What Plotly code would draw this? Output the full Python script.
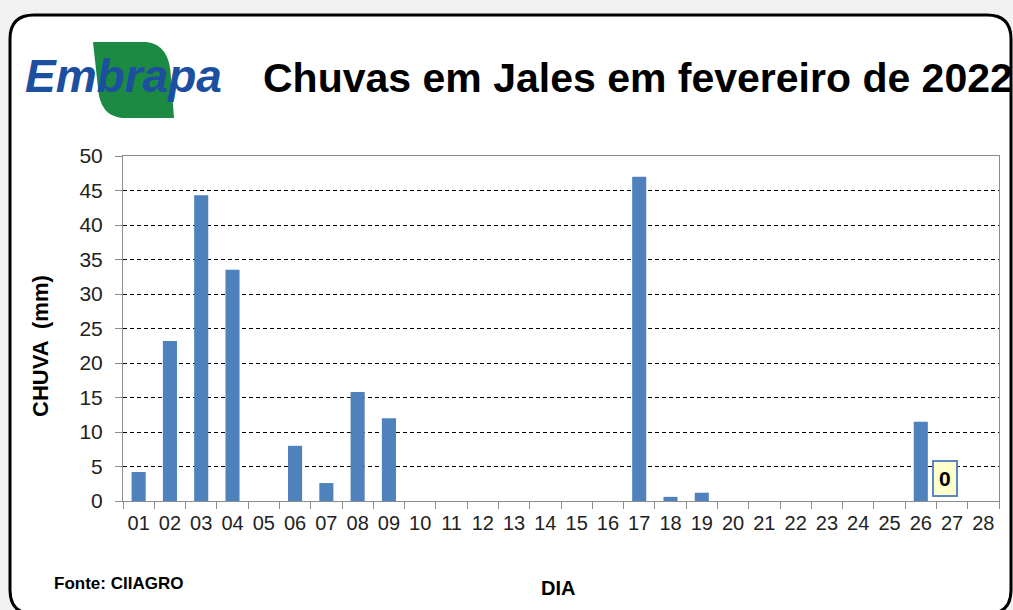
import plotly.graph_objects as go

# ---- data ----
days = ["01", "02", "03", "04", "05", "06", "07", "08", "09", "10", "11", "12", "13", "14",
        "15", "16", "17", "18", "19", "20", "21", "22", "23", "24", "25", "26", "27", "28"]
rain_mm = [4.2, 23.2, 44.3, 33.5, 0, 8.0, 2.6, 15.8, 12.0, 0, 0, 0, 0, 0,
           0, 0, 47.0, 0.6, 1.2, 0, 0, 0, 0, 0, 0, 11.5, 0, 0]
y_ticks = [0, 5, 10, 15, 20, 25, 30, 35, 40, 45, 50]
label_day = "27"

title_text = "Chuvas em Jales em fevereiro de 2022"
source_text = "Fonte: CIIAGRO"
x_title = "DIA"
y_title = "CHUVA  (mm)"
logo_text = "Embrapa"

W, H = 1013, 610
L, R, T, B = 123, 999, 156, 501  # plot area in px


def px(x):
    return (x - L) / (R - L)


def py(y):
    return (B - y) / (B - T)


fig = go.Figure()
fig.add_trace(go.Bar(
    x=days, y=rain_mm,
    marker=dict(color="#4f81bd", line=dict(width=0)),
    hoverinfo="x+y",
))

shapes = []
# rounded border frame
x0, y0, x1, y1, r = 10, 15, 1011, 614, 24
path = (f"M {px(x0+r)},{py(y0)} L {px(x1-r)},{py(y0)} "
        f"Q {px(x1)},{py(y0)} {px(x1)},{py(y0+r)} "
        f"L {px(x1)},{py(y1-r)} Q {px(x1)},{py(y1)} {px(x1-r)},{py(y1)} "
        f"L {px(x0+r)},{py(y1)} Q {px(x0)},{py(y1)} {px(x0)},{py(y1-r)} "
        f"L {px(x0)},{py(y0+r)} Q {px(x0)},{py(y0)} {px(x0+r)},{py(y0)} Z")
shapes.append(dict(type="path", xref="paper", yref="paper", path=path,
                   line=dict(color="black", width=3), fillcolor="white", layer="below"))
# logo leaf
leaf = (f"M {px(93)},{py(42)} L {px(146)},{py(42)} "
        f"Q {px(170)},{py(44)} {px(171)},{py(78)} "
        f"L {px(174)},{py(118)} L {px(122)},{py(118)} "
        f"Q {px(100)},{py(116)} {px(98)},{py(88)} Z")
shapes.append(dict(type="path", xref="paper", yref="paper", path=leaf,
                   line=dict(color="#1d8a43", width=0), fillcolor="#1d8a43", layer="below"))

li = days.index(label_day)
annotations = [
    dict(text=f"<b><i>{logo_text}</i></b>", xref="paper", yref="paper",
         x=px(23), y=py(76), xanchor="left", yanchor="middle", showarrow=False,
         font=dict(family="Liberation Sans, Arial", size=46, color="#1c4f9f")),
    dict(text=f"<b>{title_text}</b>", xref="paper", yref="paper",
         x=px(261), y=py(78), xanchor="left", yanchor="middle", showarrow=False,
         font=dict(family="Liberation Sans, Arial", size=41, color="black")),
    dict(text=f"<b>{source_text}</b>", xref="paper", yref="paper",
         x=px(52), y=py(583), xanchor="left", yanchor="middle", showarrow=False,
         font=dict(family="Liberation Sans, Arial", size=17, color="black")),
    dict(text=f"<b>{x_title}</b>", xref="paper", yref="paper",
         x=px(558), y=py(588), xanchor="center", yanchor="middle", showarrow=False,
         font=dict(family="Liberation Sans, Arial", size=20, color="black")),
    dict(text=f"<b>{y_title}</b>", xref="paper", yref="paper",
         x=px(40), y=py(346), xanchor="center", yanchor="middle", showarrow=False,
         textangle=-90,
         font=dict(family="Liberation Sans, Arial", size=22, color="black")),
    dict(text=f"<b>{rain_mm[li]:g}</b>", x=li, y=rain_mm[li], xref="x", yref="y",
         yanchor="bottom", xshift=-7, yshift=4, showarrow=False,
         bgcolor="#ffffcc", bordercolor="#5b87c5", borderwidth=2, borderpad=5,
         font=dict(family="Liberation Sans, Arial", size=21, color="black")),
]

fig.update_layout(
    width=W, height=H,
    margin=dict(l=L, r=W - R, t=T, b=H - B, pad=0),
    paper_bgcolor="#f1f1f1",
    plot_bgcolor="white",
    showlegend=False,
    bargap=0.55,
    shapes=shapes,
    annotations=annotations,
    font=dict(family="Liberation Sans, Arial", color="#222"),
)
fig.update_xaxes(
    type="category", categoryorder="array", categoryarray=days,
    showline=True, linecolor="#8c8c8c", linewidth=1, mirror=True,
    ticks="outside", tickson="boundaries", ticklen=7, tickcolor="#8c8c8c",
    tickfont=dict(size=20, color="#222"), showgrid=False, ticklabelstandoff=4,
)
fig.update_yaxes(
    range=[0, 50], tickvals=y_ticks,
    showline=True, linecolor="#8c8c8c", linewidth=1, mirror=True,
    ticks="outside", ticklen=7, tickcolor="#8c8c8c",
    tickfont=dict(size=21, color="#222"), ticklabelstandoff=8,
    showgrid=True, gridcolor="black", gridwidth=1, griddash="4px,3px",
    zeroline=False,
)

fig.write_html("out.html", config={"displayModeBar": False},
               post_script="document.body.style.margin='0';document.body.style.overflow='hidden';")
